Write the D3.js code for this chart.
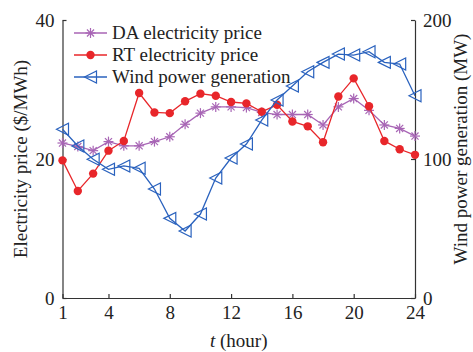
<!DOCTYPE html>
<html><head><meta charset="utf-8">
<script src="https://cdn.jsdelivr.net/npm/d3@7"></script>
<style>body{margin:0;background:#fff}svg{display:block}text{font-family:"Liberation Serif","Times New Roman",serif;fill:#222}</style>
</head><body>
<svg id="c" width="473" height="352"></svg>
<script>
const hours = d3.range(1, 25);
const daPrice = [22.3,21.8,21.2,22.5,21.9,21.9,22.5,23.2,25.0,26.6,27.5,27.5,27.4,26.7,26.4,26.4,26.4,24.9,27.5,28.7,27.0,24.9,24.4,23.3];
const rtPrice = [19.8,15.4,17.9,21.2,22.6,29.5,26.7,26.6,28.3,29.4,29.1,28.2,28.0,26.8,27.8,25.4,24.7,22.4,29.0,31.6,27.6,22.6,21.4,20.6];
const windGen = [121.4,109.4,99.8,92.6,95.0,93.3,78.4,57.3,48.2,60.4,86.3,100.7,110.8,128.0,142.4,152.5,162.8,169.5,175.5,174.8,177.2,169.5,168.3,145.5];
const xTicks = [1,4,8,12,16,20,24];
const yLeftTicks = [0,20,40];
const yRightTicks = [0,100,200];
const seriesNames = ["DA electricity price","RT electricity price","Wind power generation"];
const colors = ["#a865b5","#e8262a","#2a62be"];

const svg = d3.select("#c");
const L = 62.5, R = 415, T = 20, B = 298;
const x = d3.scaleLinear().domain([1,24]).range([L,R]);
const yl = d3.scaleLinear().domain([0,40]).range([B,T]);
const yr = d3.scaleLinear().domain([0,200]).range([B,T]);
const fs = 19;

// axes
const gx = svg.append("g").attr("transform",`translate(0,${B})`)
  .call(d3.axisBottom(x).tickValues(xTicks).tickSizeInner(-4).tickSizeOuter(0).tickPadding(8));
const gl = svg.append("g").attr("transform",`translate(${L},0)`)
  .call(d3.axisLeft(yl).tickValues(yLeftTicks).tickSizeInner(-4).tickSizeOuter(0).tickPadding(8));
const gr = svg.append("g").attr("transform",`translate(${R},0)`)
  .call(d3.axisRight(yr).tickValues(yRightTicks).tickSizeInner(-4).tickSizeOuter(0).tickPadding(8));
[gx,gl,gr].forEach(g=>{
  g.selectAll("path.domain").attr("stroke","#333").attr("stroke-width",1.2);
  g.selectAll("line").attr("stroke","#333").attr("stroke-width",1.2);
  g.selectAll("text").attr("font-size",fs).attr("font-family","Liberation Serif").attr("fill","#222");
});

// titles
svg.append("text").attr("transform",`translate(27,${(T+B)/2}) rotate(-90)`).attr("text-anchor","middle")
  .attr("font-size",fs).text("Electricity price ($/MWh)");
svg.append("text").attr("transform",`translate(467,149) rotate(-90)`).attr("text-anchor","middle")
  .attr("font-size",fs).text("Wind power generation (MW)");
const xt = svg.append("text").attr("x",(L+R)/2).attr("y",347).attr("text-anchor","middle").attr("font-size",fs);
xt.append("tspan").attr("font-style","italic").text("t");
xt.append("tspan").text(" (hour)");

// markers
function star(g, cx, cy, c){
  const r = 5;
  for (let a=0;a<4;a++){
    const ang = a*Math.PI/4;
    g.append("line").attr("x1",cx-r*Math.cos(ang)).attr("y1",cy-r*Math.sin(ang))
      .attr("x2",cx+r*Math.cos(ang)).attr("y2",cy+r*Math.sin(ang))
      .attr("stroke",c).attr("stroke-width",1.2);
  }
}
function dot(g,cx,cy,c){ g.append("circle").attr("cx",cx).attr("cy",cy).attr("r",4.2).attr("fill",c); }
function tri(g,cx,cy,c){
  const s=6;
  g.append("path").attr("d",`M${cx-s},${cy}L${cx+s},${cy-s}L${cx+s},${cy+s}Z`)
    .attr("fill","none").attr("stroke",c).attr("stroke-width",1.2);
}
const markers=[star,dot,tri];

const series = [
  {vals: daPrice, y: yl},
  {vals: rtPrice, y: yl},
  {vals: windGen, y: yr}
];
[0,1,2].forEach(i=>{
  const s=series[i];
  const g=svg.append("g");
  const line=d3.line().x((d,k)=>x(hours[k])).y(d=>s.y(d));
  g.append("path").attr("d",line(s.vals)).attr("fill","none").attr("stroke",colors[i]).attr("stroke-width",1.3);
  s.vals.forEach((v,k)=>markers[i](g,x(hours[k]),s.y(v),colors[i]));
});

// legend
const lg = svg.append("g");
[33,55,77].forEach((yy,i)=>{
  lg.append("line").attr("x1",74).attr("x2",107).attr("y1",yy).attr("y2",yy).attr("stroke",colors[i]).attr("stroke-width",1.3);
  markers[i](lg,90.5,yy,colors[i]);
  lg.append("text").attr("x",112).attr("y",yy+6).attr("font-size",fs).text(seriesNames[i]);
});
</script>
</body></html>
